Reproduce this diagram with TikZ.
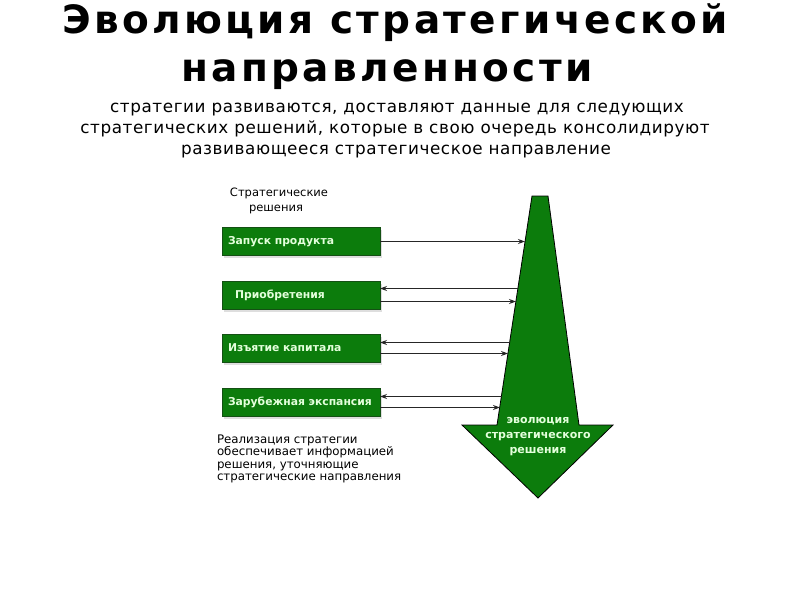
\documentclass[tikz,border=0pt]{standalone}
\usepackage{fontspec}
\setmainfont{DejaVu Sans}
\newfontfamily\titlefont[LetterSpace=8.6]{DejaVu Sans}
\newfontfamily\subfont[LetterSpace=3.5]{DejaVu Sans}
\usetikzlibrary{arrows.meta,shadows}
\definecolor{boxgreen}{RGB}{12,124,12}
\definecolor{boxedge}{RGB}{20,80,20}
\definecolor{txtgreen}{RGB}{228,255,220}
\begin{document}
\begin{tikzpicture}[x=1pt,y=-1pt,
  every node/.style={inner sep=0pt, outer sep=0pt},
  titletext/.style={font=\titlefont\bfseries\fontsize{39}{42}\selectfont, anchor=base},
  subtext/.style={font=\subfont\fontsize{16.8}{20}\selectfont, anchor=base},
  boxnode/.style={draw=boxedge, line width=0.6pt, fill=boxgreen, minimum width=158pt, minimum height=28pt,
    text width=146pt, align=left, text=txtgreen, font=\bfseries\fontsize{10.8}{12}\selectfont,
    drop shadow={shadow xshift=2pt, shadow yshift=-2.5pt, fill=black!25}},
  labeltext/.style={font=\fontsize{11.5}{13}\selectfont, anchor=base},
  notetext/.style={font=\fontsize{11.8}{13}\selectfont, anchor=base west},
  arrowtext/.style={font=\bfseries\fontsize{11}{13}\selectfont, text=txtgreen, anchor=base},
  link/.style={line width=1.1pt, draw=black!85, -{Stealth[length=7pt,width=5pt]}}
]
\useasboundingbox (0,0) rectangle (800,600);
\fill[white] (0,0) rectangle (800,600);

% title
\node[titletext] (title1) at (395,33) {Эволюция стратегической};
\node[titletext] (title2) at (387,81) {направленности};
\node[subtext] (sub1) at (397,112) {стратегии развиваются, доставляют данные для следующих};
\node[subtext] (sub2) at (395,133) {стратегических решений, которые в свою очередь консолидируют};
\node[subtext] (sub3) at (396,154) {развивающееся стратегическое направление};

% big arrow
\filldraw[fill=boxgreen, draw=black, line width=0.8pt]
  (532,196) -- (548,196) -- (579,425) -- (613,425) -- (538,498) -- (462,425) -- (497,425) -- cycle;
\node[arrowtext] (ev1) at (538,423) {эволюция};
\node[arrowtext] (ev2) at (538,438) {стратегического};
\node[arrowtext] (ev3) at (538,453) {решения};

% left label
\node[labeltext] (lab1) at (279,196) {Стратегические};
\node[labeltext] (lab2) at (276,211) {решения};

% boxes
\node[boxnode] (b1) at (301,241.5) {Запуск продукта};
\node[boxnode] (b2) at (301,295) {\hspace*{7pt}Приобретения};
\node[boxnode] (b3) at (301,348) {Изъятие капитала};
\node[boxnode] (b4) at (301,402) {Зарубежная экспансия};

% points on the shaft edge
\coordinate (e1) at (525,241.5);
\coordinate (e2u) at (518,288.5);
\coordinate (e2d) at (516,301.5);
\coordinate (e3u) at (510,342.5);
\coordinate (e3d) at (508,353.5);
\coordinate (e4u) at (501.5,396.5);
\coordinate (e4d) at (500,407.5);

\draw[link] (b1.east) -- (e1);
\draw[link] (e2u) -- (e2u -| b2.east);
\draw[link] (e2d -| b2.east) -- (e2d);
\draw[link] (e3u) -- (e3u -| b3.east);
\draw[link] (e3d -| b3.east) -- (e3d);
\draw[link] (e4u) -- (e4u -| b4.east);
\draw[link] (e4d -| b4.east) -- (e4d);

% note
\node[notetext] (n1) at (217,443) {Реализация стратегии};
\node[notetext] (n2) at (217,455.5) {обеспечивает информацией};
\node[notetext] (n3) at (217,468) {решения, уточняющие};
\node[notetext] (n4) at (217,480) {стратегические направления};
\end{tikzpicture}
\end{document}
